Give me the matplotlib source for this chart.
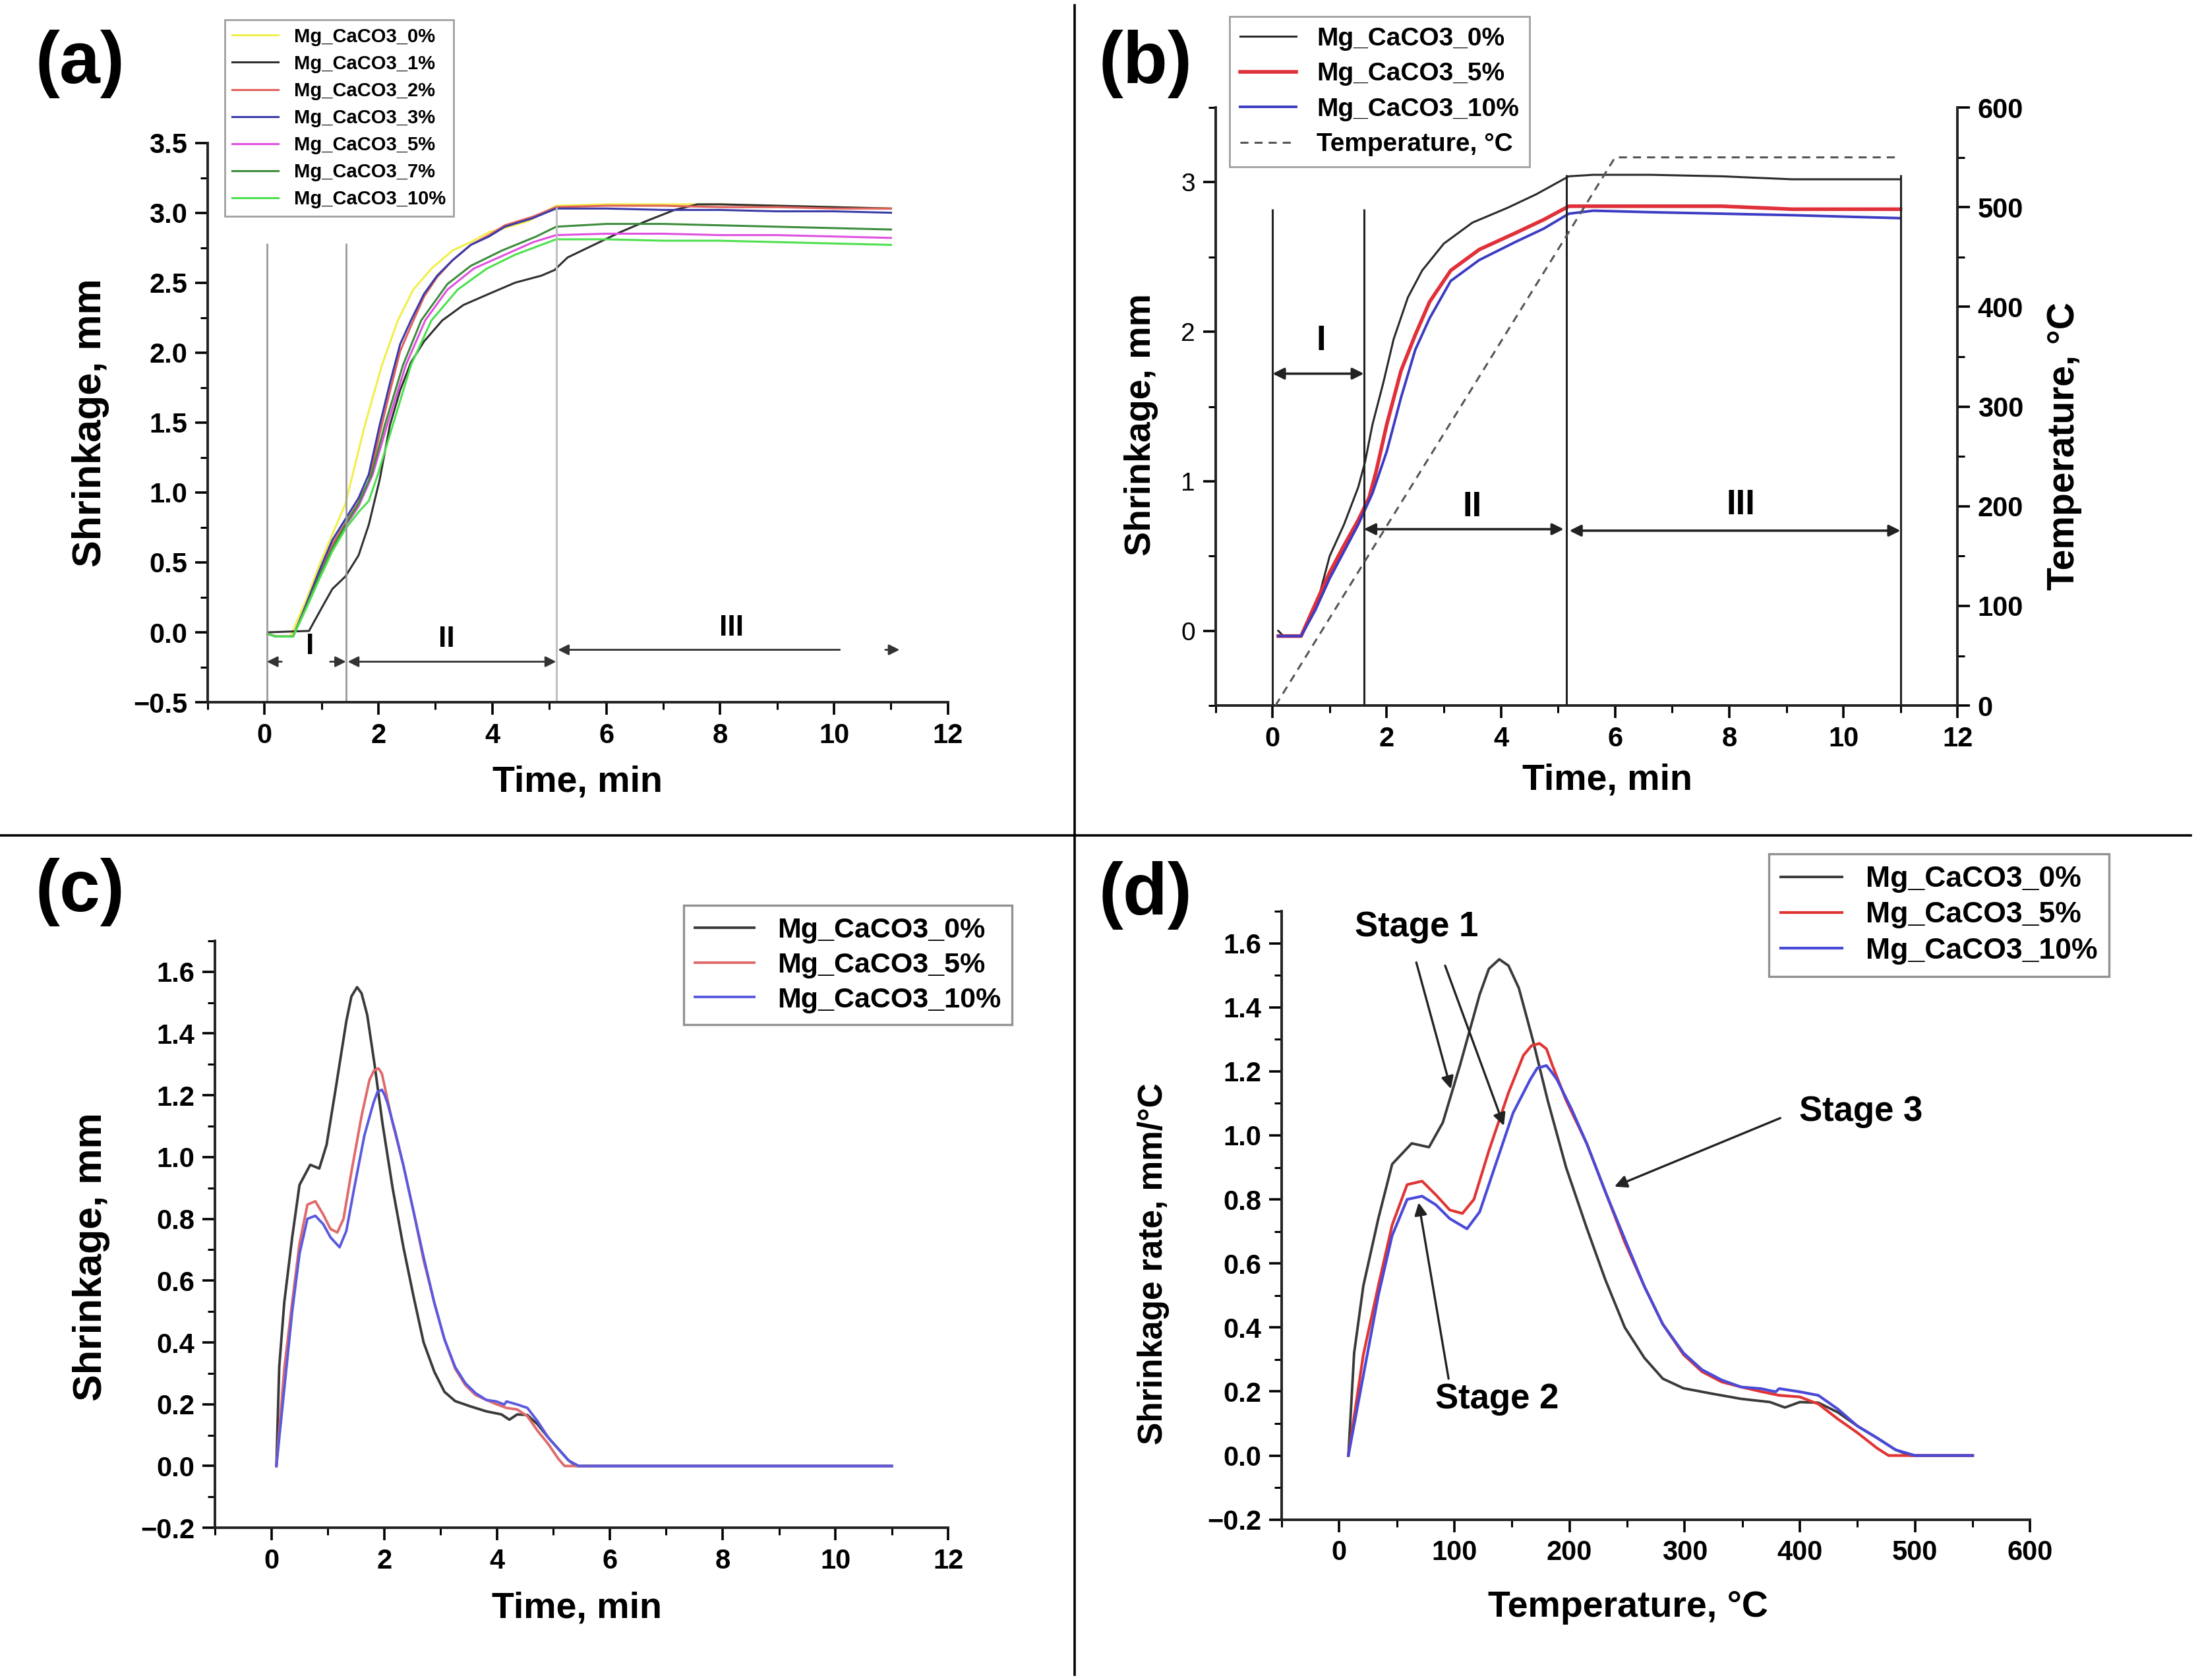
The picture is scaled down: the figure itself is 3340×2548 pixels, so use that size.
import matplotlib
matplotlib.use('Agg')
import matplotlib.pyplot as plt
from matplotlib.lines import Line2D
from matplotlib.ticker import MultipleLocator

plt.rcParams['font.family'] = ['Liberation Sans', 'DejaVu Sans']

# ---------- (a) shrinkage vs time, all compositions ----------
a_labels = ['Mg_CaCO3_0%', 'Mg_CaCO3_1%', 'Mg_CaCO3_2%', 'Mg_CaCO3_3%',
            'Mg_CaCO3_5%', 'Mg_CaCO3_7%', 'Mg_CaCO3_10%']

a_t0 = [0.05, 0.2, 0.45, 0.73, 0.96, 1.19, 1.42, 1.56, 1.76, 2.06, 2.34, 2.61, 2.93, 3.30,
        3.62, 3.94, 4.63, 5.12, 6.0, 7.0, 8.0, 9.0, 10.0, 11.0]
a_y0 = [-0.01, -0.03, -0.03, 0.23, 0.48, 0.70, 0.92, 1.15, 1.48, 1.91, 2.23, 2.45, 2.60, 2.73,
        2.79, 2.86, 2.94, 3.05, 3.06, 3.06, 3.06, 3.05, 3.04, 3.03]

a_t1 = [0.05, 0.78, 1.01, 1.19, 1.42, 1.65, 1.83, 2.02, 2.20, 2.38, 2.57, 2.80, 3.12, 3.49,
        3.94, 4.40, 4.86, 5.09, 5.32, 5.78, 6.24, 6.70, 7.2, 7.6, 8.0, 9.0, 10.0, 11.0]
a_y1 = [0.0, 0.01, 0.18, 0.31, 0.40, 0.55, 0.77, 1.09, 1.48, 1.73, 1.93, 2.08, 2.23, 2.34,
        2.42, 2.50, 2.55, 2.59, 2.68, 2.77, 2.86, 2.94, 3.02, 3.06, 3.06, 3.05, 3.04, 3.03]

a_t3 = [0.05, 0.2, 0.5, 0.73, 0.96, 1.19, 1.42, 1.65, 1.83, 2.02, 2.20, 2.38, 2.57, 2.80,
        3.03, 3.30, 3.62, 3.94, 4.22, 4.7, 5.12, 6.0, 7.0, 8.0, 9.0, 10.0, 11.0]
a_y2 = [-0.01, -0.03, -0.03, 0.19, 0.42, 0.63, 0.78, 0.93, 1.08, 1.42, 1.72, 2.01, 2.19, 2.40,
        2.54, 2.66, 2.77, 2.84, 2.91, 2.97, 3.04, 3.05, 3.05, 3.04, 3.04, 3.03, 3.03]
a_y3 = [-0.01, -0.03, -0.03, 0.20, 0.44, 0.66, 0.81, 0.96, 1.13, 1.48, 1.78, 2.06, 2.23, 2.42,
        2.55, 2.66, 2.77, 2.83, 2.90, 2.96, 3.03, 3.03, 3.02, 3.02, 3.01, 3.01, 3.00]

a_t5 = [0.05, 0.2, 0.5, 0.73, 0.96, 1.19, 1.42, 1.65, 1.90, 2.15, 2.48, 2.82, 3.21, 3.67,
        4.22, 4.72, 5.12, 6.0, 7.0, 8.0, 9.0, 10.0, 11.0]
a_y5 = [-0.01, -0.03, -0.03, 0.18, 0.40, 0.60, 0.76, 0.90, 1.13, 1.48, 1.91, 2.23, 2.45, 2.60,
        2.70, 2.79, 2.84, 2.85, 2.85, 2.84, 2.84, 2.83, 2.82]

a_t7 = [0.05, 0.2, 0.5, 0.73, 0.96, 1.19, 1.42, 1.65, 1.88, 2.11, 2.43, 2.75, 3.21, 3.62,
        4.17, 4.77, 5.12, 6.0, 7.0, 8.0, 9.0, 10.0, 11.0]
a_y7 = [-0.01, -0.03, -0.03, 0.18, 0.40, 0.60, 0.77, 0.92, 1.13, 1.48, 1.91, 2.23, 2.49, 2.62,
        2.73, 2.83, 2.90, 2.92, 2.92, 2.91, 2.90, 2.89, 2.88]

a_t10 = [0.05, 0.2, 0.5, 0.73, 0.96, 1.19, 1.42, 1.65, 1.83, 1.99, 2.25, 2.57, 2.93, 3.39,
         3.90, 4.40, 5.12, 6.0, 7.0, 8.0, 9.0, 10.0, 11.0]
a_y10 = [-0.01, -0.03, -0.03, 0.17, 0.38, 0.58, 0.74, 0.86, 0.94, 1.13, 1.48, 1.91, 2.23, 2.45,
         2.60, 2.70, 2.81, 2.81, 2.80, 2.80, 2.79, 2.78, 2.77]

a_colors = ['#f2ee4a', '#303030', '#e0605a', '#3a3aa8', '#e050e0', '#3c8c3c', '#4de04d']

# ---------- (b) shrinkage + temperature vs time ----------
labels3 = ['Mg_CaCO3_0%', 'Mg_CaCO3_5%', 'Mg_CaCO3_10%']

b_t0 = [0.1, 0.19, 0.5, 0.75, 1.0, 1.25, 1.5, 1.62, 1.75, 1.94, 2.12, 2.37, 2.62, 3.0, 3.5,
        4.12, 4.62, 5.19, 5.62, 6.62, 7.87, 9.1, 11.0]
b_y0 = [0.0, -0.035, -0.035, 0.14, 0.50, 0.71, 0.96, 1.13, 1.38, 1.66, 1.95, 2.23, 2.41, 2.59,
        2.73, 2.83, 2.92, 3.04, 3.05, 3.05, 3.04, 3.02, 3.02]

b_t5 = [0.1, 0.5, 0.75, 1.0, 1.25, 1.5, 1.69, 1.81, 2.0, 2.25, 2.5, 2.75, 3.12, 3.62, 4.25,
        4.75, 5.19, 6.62, 7.87, 9.1, 11.0]
b_y5 = [-0.035, -0.035, 0.18, 0.39, 0.57, 0.74, 0.89, 1.06, 1.38, 1.74, 1.98, 2.20, 2.41, 2.55,
        2.66, 2.75, 2.84, 2.84, 2.84, 2.82, 2.82]

b_t10 = [0.1, 0.5, 0.75, 1.0, 1.5, 1.75, 2.0, 2.25, 2.5, 2.75, 3.12, 3.62, 4.25, 4.75, 5.19,
         5.62, 6.62, 7.87, 9.1, 11.0]
b_y10 = [-0.035, -0.035, 0.14, 0.35, 0.71, 0.92, 1.2, 1.56, 1.88, 2.09, 2.34, 2.48, 2.6, 2.69,
         2.79, 2.81, 2.80, 2.79, 2.78, 2.76]

temp_t = [0.05, 6.0, 11.0]
temp_c = [0, 550, 550]

# ---------- (c) shrinkage rate vs time ----------
c_t0 = [0.09, 0.14, 0.23, 0.37, 0.5, 0.69, 0.85, 0.98, 1.14, 1.33, 1.42, 1.52, 1.60, 1.70,
        1.83, 1.97, 2.15, 2.34, 2.52, 2.70, 2.89, 3.07, 3.26, 3.53, 3.81, 4.08, 4.22, 4.36,
        4.54, 4.72, 4.91, 5.09, 5.27, 5.41, 11.0]
c_y0 = [0.0, 0.32, 0.53, 0.74, 0.91, 0.975, 0.963, 1.04, 1.22, 1.44, 1.52, 1.55, 1.53, 1.46,
        1.30, 1.11, 0.90, 0.71, 0.55, 0.40, 0.305, 0.24, 0.21, 0.193, 0.177, 0.167, 0.15,
        0.167, 0.165, 0.135, 0.092, 0.055, 0.018, 0.0, 0.0]

c_t5 = [0.09, 0.23, 0.37, 0.5, 0.64, 0.78, 0.92, 1.05, 1.17, 1.28, 1.42, 1.60, 1.74, 1.82,
        1.90, 1.96, 2.02, 2.15, 2.34, 2.52, 2.70, 2.89, 3.07, 3.26, 3.44, 3.62, 3.81, 3.99,
        4.17, 4.36, 4.54, 4.72, 4.91, 5.09, 5.20, 11.0]
c_y5 = [0.0, 0.315, 0.53, 0.72, 0.846, 0.857, 0.814, 0.767, 0.756, 0.80, 0.952, 1.133, 1.25,
        1.28, 1.287, 1.27, 1.22, 1.11, 0.974, 0.825, 0.666, 0.528, 0.41, 0.315, 0.262, 0.23,
        0.214, 0.20, 0.188, 0.183, 0.161, 0.114, 0.071, 0.023, 0.0, 0.0]

c_t10 = [0.09, 0.23, 0.37, 0.5, 0.64, 0.78, 0.92, 1.05, 1.21, 1.33, 1.47, 1.65, 1.81, 1.88,
         1.96, 2.01, 2.06, 2.20, 2.34, 2.52, 2.70, 2.89, 3.07, 3.26, 3.44, 3.62, 3.81, 3.99,
         4.13, 4.17, 4.36, 4.54, 4.72, 4.91, 5.09, 5.27, 5.45, 11.0]
c_y10 = [0.0, 0.25, 0.50, 0.687, 0.80, 0.81, 0.783, 0.74, 0.708, 0.761, 0.90, 1.07, 1.175,
         1.21, 1.218, 1.20, 1.175, 1.08, 0.974, 0.825, 0.676, 0.528, 0.41, 0.32, 0.268, 0.236,
         0.214, 0.209, 0.199, 0.209, 0.199, 0.188, 0.145, 0.092, 0.055, 0.018, 0.0, 0.0]

# ---------- (d) shrinkage rate vs temperature ----------
d_T0 = [8, 13, 21, 34, 46, 63, 78, 90, 105, 122, 130, 139, 147, 156, 168, 181, 197, 215, 231,
        248, 265, 281, 299, 324, 349, 374, 387, 400, 416, 433, 450, 467, 483, 496, 550]
d_T5 = [8, 21, 34, 46, 59, 72, 84, 96, 107, 117, 130, 147, 160, 167, 174, 180, 185, 197, 215,
        231, 248, 265, 281, 299, 315, 332, 349, 366, 382, 400, 416, 433, 450, 467, 477, 550]
d_T10 = [8, 21, 34, 46, 59, 72, 84, 96, 111, 122, 135, 151, 166, 172, 180, 184, 189, 202, 215,
         231, 248, 265, 281, 299, 315, 332, 349, 366, 379, 382, 400, 416, 433, 450, 467, 483,
         500, 550]
d_y0 = c_y0
d_y5 = c_y5
d_y10 = c_y10

fig = plt.figure(figsize=(16.7, 12.74), dpi=200)


def style_axes(ax, tick_bold=True, size=15):
    for s in ['top', 'right']:
        ax.spines[s].set_visible(False)
    for s in ['left', 'bottom']:
        ax.spines[s].set_linewidth(1.4)
        ax.spines[s].set_color('#222222')
    ax.tick_params(which='major', direction='out', length=7, width=1.3, labelsize=size, pad=4)
    ax.tick_params(which='minor', direction='out', length=4, width=1.1)
    for lab in ax.get_xticklabels() + ax.get_yticklabels():
        if tick_bold:
            lab.set_fontweight('bold')


def set_labels(ax, xl, yl, xpos, ypos, xsize=20, ysize=22):
    ax.set_xlabel(xl, fontsize=xsize, fontweight='bold')
    ax.set_ylabel(yl, fontsize=ysize, fontweight='bold')
    ax.xaxis.set_label_coords(*xpos)
    ax.yaxis.set_label_coords(*ypos)
    ax.xaxis.label.set_va('center')
    ax.yaxis.label.set_va('center')


# (a)
ax = fig.add_axes([0.0943, 0.582, 0.3362, 0.333])
series_a = [(a_t0, a_y0), (a_t1, a_y1), (a_t3, a_y2), (a_t3, a_y3),
            (a_t5, a_y5), (a_t7, a_y7), (a_t10, a_y10)]
for (tt, yy), lab, col in zip(series_a, a_labels, a_colors):
    ax.plot(tt, yy, color=col, lw=1.1, label=lab)
ax.vlines([0.04, 1.43], -0.5, 2.78, color='#9a9a9a', lw=1.0)
ax.vlines([5.12], -0.5, 3.04, color='#bbbbbb', lw=1.0)
arr = dict(arrowstyle='-|>', color='#333333', lw=1.0, mutation_scale=12, shrinkA=0, shrinkB=0)
ax.annotate('', xy=(0.04, -0.21), xytext=(0.3, -0.21), arrowprops=arr)
ax.annotate('', xy=(1.43, -0.21), xytext=(1.15, -0.21), arrowprops=arr)
ax.annotate('', xy=(1.46, -0.21), xytext=(5.12, -0.21),
            arrowprops=dict(arr, arrowstyle='<|-|>'))
ax.annotate('', xy=(5.15, -0.125), xytext=(10.1, -0.125), arrowprops=arr)
ax.annotate('', xy=(11.15, -0.125), xytext=(10.9, -0.125), arrowprops=arr)
ax.text(0.8, -0.1, 'I', fontsize=16, fontweight='bold', ha='center', va='center')
ax.text(3.2, -0.05, 'II', fontsize=16, fontweight='bold', ha='center', va='center')
ax.text(8.2, 0.03, 'III', fontsize=16, fontweight='bold', ha='center', va='center')
ax.set_xlim(-1, 12)
ax.set_ylim(-0.5, 3.5)
ax.xaxis.set_major_locator(MultipleLocator(2))
ax.xaxis.set_minor_locator(MultipleLocator(1))
ax.yaxis.set_major_locator(MultipleLocator(0.5))
ax.yaxis.set_minor_locator(MultipleLocator(0.25))
style_axes(ax)
set_labels(ax, 'Time, min', 'Shrinkage, mm', (0.5, -0.143), (-0.158, 0.5))
leg = ax.legend(loc='upper left', bbox_to_anchor=(0.023, 1.22), borderaxespad=0,
                handlelength=2.4, labelspacing=0.45, fancybox=False,
                edgecolor='#888888', prop={'weight': 'bold', 'size': 10.5})
leg.get_frame().set_linewidth(1.0)

# (b)
ax = fig.add_axes([0.552, 0.580, 0.337, 0.356])
ax.plot(b_t0, b_y0, color='#2a2a2a', lw=1.1, label=labels3[0])
ax.plot(b_t5, b_y5, color='#e0303a', lw=2.0, label=labels3[1])
ax.plot(b_t10, b_y10, color='#3b3bc4', lw=1.4, label=labels3[2])
ax.vlines([0.0, 1.6], -0.5, 2.82, color='#222222', lw=1.1)
ax.vlines([5.15, 11.0], -0.5, 3.05, color='#222222', lw=1.1)
arr_b = dict(arrowstyle='<|-|>', color='#222222', lw=1.3, mutation_scale=13, shrinkA=0, shrinkB=0)
ax.annotate('', xy=(0.0, 1.72), xytext=(1.6, 1.72), arrowprops=arr_b)
ax.annotate('', xy=(1.6, 0.68), xytext=(5.1, 0.68), arrowprops=arr_b)
ax.annotate('', xy=(5.2, 0.67), xytext=(11.0, 0.67), arrowprops=arr_b)
ax.text(0.85, 1.94, 'I', fontsize=19, fontweight='bold', ha='center', va='center')
ax.text(3.5, 0.83, 'II', fontsize=19, fontweight='bold', ha='center', va='center')
ax.text(8.2, 0.84, 'III', fontsize=19, fontweight='bold', ha='center', va='center')
ax.set_xlim(-1, 12)
ax.set_ylim(-0.5, 3.5)
ax.xaxis.set_major_locator(MultipleLocator(2))
ax.xaxis.set_minor_locator(MultipleLocator(1))
ax.yaxis.set_major_locator(MultipleLocator(1))
ax.yaxis.set_minor_locator(MultipleLocator(0.5))
style_axes(ax)
for lab in ax.get_yticklabels():
    lab.set_fontweight('normal')
    lab.set_fontsize(14)
set_labels(ax, 'Time, min', 'Shrinkage, mm', (0.528, -0.125), (-0.1, 0.47), ysize=20)
axr = ax.twinx()
axr.plot(temp_t, temp_c, color='#555555', lw=1.1, ls=(0, (4, 3)), label='Temperature, °C')
axr.set_ylim(0, 600)
axr.yaxis.set_major_locator(MultipleLocator(100))
axr.yaxis.set_minor_locator(MultipleLocator(50))
axr.spines['top'].set_visible(False)
axr.spines['left'].set_visible(False)
axr.spines['bottom'].set_visible(False)
axr.spines['right'].set_linewidth(1.4)
axr.spines['right'].set_color('#222222')
axr.tick_params(which='major', direction='out', length=7, width=1.3, labelsize=15, pad=4)
axr.tick_params(which='minor', direction='out', length=4, width=1.1)
for lab in axr.get_yticklabels():
    lab.set_fontweight('bold')
axr.set_ylabel('Temperature, °C', fontsize=20.5, fontweight='bold')
axr.yaxis.set_label_coords(1.144, 0.434)
axr.yaxis.label.set_va('center')
h1, l1 = ax.get_legend_handles_labels()
h2, l2 = axr.get_legend_handles_labels()
leg = axr.legend(h1 + h2, l1 + l2, loc='upper left', bbox_to_anchor=(0.019, 1.152),
                 borderaxespad=0, handlelength=2.2, labelspacing=0.45, fancybox=False,
                 edgecolor='#888888', prop={'weight': 'bold', 'size': 14})
leg.get_frame().set_linewidth(1.0)

# (c)
ax = fig.add_axes([0.0976, 0.0906, 0.333, 0.3494])
ax.plot(c_t0, c_y0, color='#3a3a3a', lw=1.4, label=labels3[0])
ax.plot(c_t5, c_y5, color='#e06a6a', lw=1.4, label=labels3[1])
ax.plot(c_t10, c_y10, color='#5a5ae0', lw=1.4, label=labels3[2])
ax.set_xlim(-1, 12)
ax.set_ylim(-0.2, 1.7)
ax.xaxis.set_major_locator(MultipleLocator(2))
ax.xaxis.set_minor_locator(MultipleLocator(1))
ax.yaxis.set_major_locator(MultipleLocator(0.2))
ax.yaxis.set_minor_locator(MultipleLocator(0.1))
style_axes(ax)
set_labels(ax, 'Time, min', 'Shrinkage, mm', (0.494, -0.137), (-0.169, 0.462))
leg = ax.legend(loc='upper left', bbox_to_anchor=(0.639, 1.06), borderaxespad=0,
                handlelength=2.1, labelspacing=0.3, fancybox=False, edgecolor='#777777',
                prop={'weight': 'bold', 'size': 15.5})
leg.get_frame().set_linewidth(1.2)

# (d)
ax = fig.add_axes([0.582, 0.0955, 0.340, 0.3621])
ax.plot(d_T0, d_y0, color='#3a3a3a', lw=1.4, label=labels3[0])
ax.plot(d_T5, d_y5, color='#e03535', lw=1.5, label=labels3[1])
ax.plot(d_T10, d_y10, color='#4a4ad8', lw=1.5, label=labels3[2])
arr_d = dict(arrowstyle='-|>', color='#222222', lw=1.2, mutation_scale=14, shrinkA=0, shrinkB=0)
ax.annotate('', xy=(97, 1.145), xytext=(67, 1.54), arrowprops=arr_d)
ax.annotate('', xy=(143, 1.03), xytext=(92, 1.53), arrowprops=arr_d)
ax.annotate('', xy=(239, 0.84), xytext=(383, 1.054), arrowprops=arr_d)
ax.annotate('', xy=(69, 0.79), xytext=(95, 0.24), arrowprops=arr_d)
ax.text(67, 1.65, 'Stage 1', fontsize=19, fontweight='bold', ha='center', va='center')
ax.text(453, 1.075, 'Stage 3', fontsize=19, fontweight='bold', ha='center', va='center')
ax.text(137, 0.177, 'Stage 2', fontsize=19, fontweight='bold', ha='center', va='center')
ax.set_xlim(-50, 600)
ax.set_ylim(-0.2, 1.7)
ax.xaxis.set_major_locator(MultipleLocator(100))
ax.xaxis.set_minor_locator(MultipleLocator(50))
ax.yaxis.set_major_locator(MultipleLocator(0.2))
ax.yaxis.set_minor_locator(MultipleLocator(0.1))
style_axes(ax)
set_labels(ax, 'Temperature, °C', 'Shrinkage rate, mm/°C', (0.463, -0.145), (-0.171, 0.42),
           xsize=20, ysize=18.5)
leg = ax.legend(loc='upper left', bbox_to_anchor=(0.651, 1.094), borderaxespad=0,
                handlelength=2.1, labelspacing=0.3, fancybox=False, edgecolor='#777777',
                prop={'weight': 'bold', 'size': 16})
leg.get_frame().set_linewidth(1.2)

# panel letters and separators
for txt, x, y in [('(a)', 0.016, 0.962), ('(b)', 0.499, 0.962),
                  ('(c)', 0.016, 0.469), ('(d)', 0.499, 0.467)]:
    fig.text(x, y, txt, fontsize=40, fontweight='bold', ha='left', va='center')
fig.add_artist(Line2D([0.488, 0.488], [0.003, 0.997], color='black', lw=1.3))
fig.add_artist(Line2D([0.0, 0.995], [0.5027, 0.5027], color='black', lw=1.3))

fig.savefig('out.png', dpi=200)
